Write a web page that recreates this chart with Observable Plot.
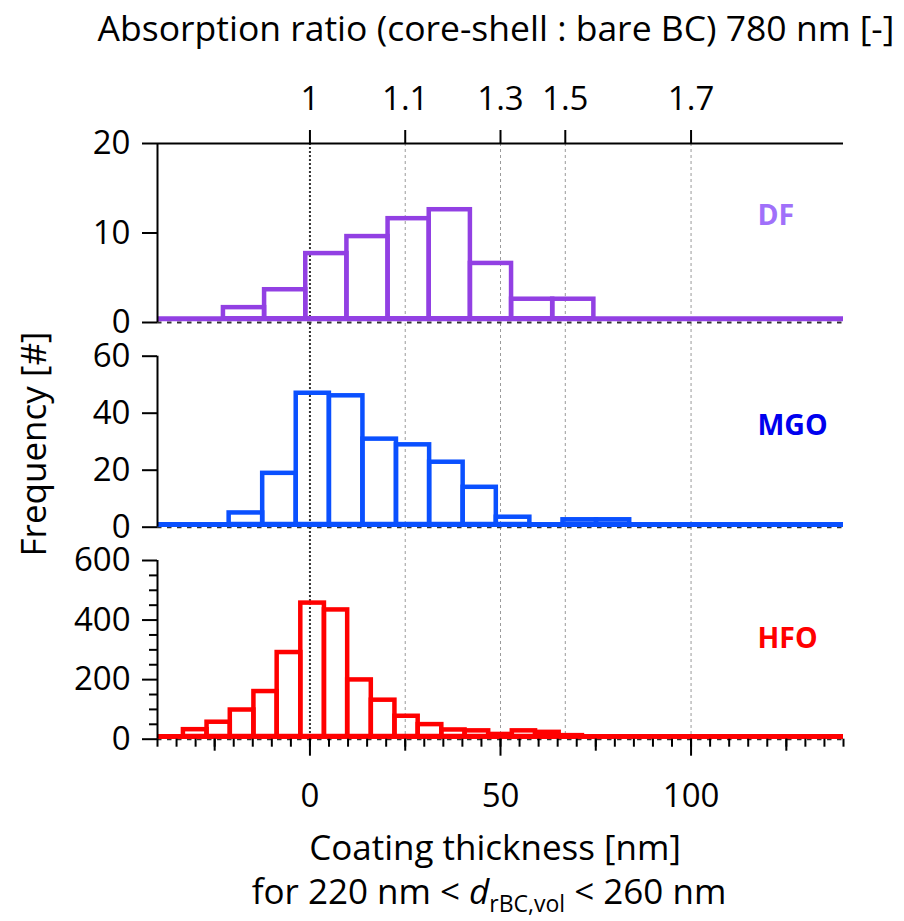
<!DOCTYPE html>
<html><head><meta charset="utf-8">
<script src="https://cdn.jsdelivr.net/npm/d3@7"></script>
<script src="https://cdn.jsdelivr.net/npm/@observablehq/plot@0.6"></script>
<style>
body{margin:0;background:#fff;font-family:"Open Sans",sans-serif;}
#wrap{position:relative;width:904px;height:921px;overflow:hidden;background:#fff;}
#wrap svg{position:absolute;left:0;}
.t{position:absolute;white-space:nowrap;color:#000;font-size:35px;line-height:1;font-family:"Open Sans",sans-serif;}
</style></head><body><div id="wrap"></div>
<script>
// ---------- data ----------
const xDomain = [-40, 140];
const ratioLabels = ["1", "1.1", "1.3", "1.5", "1.7"];
const ratioThickness = [0, 25, 50, 67, 100];
const gridThickness = [25, 50, 67, 100];
const bottomTicks = [0, 50, 100];
const bottomMidTicks = [-25, 25, 75, 125];

const dfEdges = [-22.7, -11.9, -1.1, 9.7, 20.5, 31.3, 42.1, 52.9, 63.7, 74.5];
const dfCounts = [1.66, 3.66, 7.7, 9.6, 11.6, 12.6, 6.6, 2.6, 2.6];

const mgoEdges = [-21.2, -12.4, -3.6, 5.1, 13.9, 22.7, 31.4, 40.2, 48.9, 57.7, 66.4, 75.2, 83.9];
const mgoCounts = [5.0, 18.9, 47.0, 46.1, 30.9, 28.9, 22.8, 14.0, 3.5, 0, 2.6, 2.6];

const hfoEdges = [-33.2, -27.0, -20.9, -14.7, -8.6, -2.4, 3.8, 9.9, 16.1, 22.3, 28.4, 34.6, 40.7, 46.9, 53.1, 59.2, 65.4, 71.5];
const hfoCounts = [32, 57, 98, 160, 291, 457, 434, 199, 131, 77, 49, 31, 28, 16, 28, 23, 12];

const bins = (edges, counts) => counts.map((c, i) => ({x1: edges[i], x2: edges[i + 1], count: c}));

const wrap = document.getElementById("wrap");
const baseStyle = {background: "transparent", fontFamily: "Open Sans", fontSize: "33px", overflow: "visible", color: "#000"};
const W = 904, ML = 157, MR = 61;

function place(svg, top) { svg.style.top = top + "px"; svg.style.position = "absolute"; wrap.appendChild(svg); }

// ---------- background grid ----------
place(Plot.plot({
  width: W, height: 921, marginLeft: ML, marginRight: MR, marginTop: 143, marginBottom: 182,
  x: {domain: xDomain, axis: null}, y: {domain: [0, 1], axis: null},
  style: baseStyle,
  marks: [
    Plot.ruleX(gridThickness, {stroke: "#9a9a9a", strokeWidth: 1, strokeDasharray: "3,3"}),
    Plot.ruleX([0], {stroke: "#333", strokeWidth: 2, strokeDasharray: "2,2"})
  ]
}), 0);

function panel(o) {
  const marks = [
    Plot.ruleY([0], {stroke: "#333", strokeWidth: 2, strokeDasharray: "4.5,5.5"}),
    Plot.ruleY([0], {stroke: o.color, strokeWidth: 5, dy: o.baseDy}),
    Plot.rect(bins(o.edges, o.counts), {x1: "x1", x2: "x2", y1: () => 0, y2: "count",
      fill: "none", stroke: o.color, strokeWidth: 4.5, insetBottom: -o.baseDy}),
    Plot.ruleX([xDomain[0]], {stroke: "#000", strokeWidth: 2}),
    Plot.axisY({ticks: o.yTicks, tickSize: 15, tickPadding: 12, strokeWidth: 2, label: null, fontSize: 33}),
    Plot.text([o.label], {frameAnchor: "top-right", dx: -86, dy: o.labelDy, textAnchor: "start",
      lineAnchor: "middle", fill: o.labelColor, fontSize: 28.5, fontWeight: "bold"})
  ];
  if (o.yMinor) marks.push(Plot.axisY({ticks: o.yMinor, tickSize: 8, tickFormat: () => "", strokeWidth: 2, label: null}));
  if (o.top) {
    marks.push(Plot.ruleY([o.yDomain[1]], {stroke: "#000", strokeWidth: 2}));
    marks.push(Plot.axisX({anchor: "top", ticks: ratioThickness,
      tickFormat: d => ratioLabels[ratioThickness.indexOf(d)], tickSize: 14, tickPadding: 20,
      strokeWidth: 2, label: null, fontSize: 33}));
  }
  if (o.bottom) {
    marks.push(Plot.axisX({ticks: d3.range(-40, 141, 5), tickSize: 8, tickFormat: () => "", strokeWidth: 2, label: null}));
    marks.push(Plot.axisX({ticks: bottomMidTicks, tickSize: 12, tickFormat: () => "", strokeWidth: 2, label: null}));
    marks.push(Plot.axisX({ticks: bottomTicks, tickSize: 17, tickPadding: 27, strokeWidth: 2, label: null, fontSize: 33}));
  }
  const hasX = o.top || o.bottom;
  const svg = Plot.plot({
    width: W, height: o.height, marginLeft: ML, marginRight: MR,
    marginTop: o.marginTop, marginBottom: o.marginBottom,
    x: hasX ? {domain: xDomain} : {domain: xDomain, axis: null},
    y: {domain: o.yDomain},
    style: baseStyle,
    marks
  });
  place(svg, o.svgTop);
}

panel({svgTop: 0, height: 340, marginTop: 143, marginBottom: 18, yDomain: [0, 20], yTicks: [0, 10, 20],
  edges: dfEdges, counts: dfCounts, color: "#9240e3", label: "DF", labelColor: "#a070fa", labelDy: 72,
  baseDy: -3.7, top: true});
panel({svgTop: 340, height: 200, marginTop: 15.7, marginBottom: 13.3, yDomain: [0, 60], yTicks: [0, 20, 40, 60],
  edges: mgoEdges, counts: mgoCounts, color: "#0a50ff", label: "MGO", labelColor: "#0000ee", labelDy: 70,
  baseDy: -2.7});
panel({svgTop: 540, height: 381, marginTop: 20, marginBottom: 182.3, yDomain: [0, 600], yTicks: [0, 200, 400, 600],
  yMinor: [50, 100, 150, 250, 300, 350, 450, 500, 550],
  edges: hfoEdges, counts: hfoCounts, color: "#ff0000", label: "HFO", labelColor: "#ff0000", labelDy: 78,
  baseDy: -2.7, bottom: true});

// ---------- titles ----------
function txt(html, left, top, size, extra) {
  const d = document.createElement("div");
  d.className = "t"; d.innerHTML = html;
  d.style.left = left + "px"; d.style.top = top + "px";
  d.style.fontSize = size + "px";
  d.style.transform = extra || "translateX(-50%)";
  wrap.appendChild(d);
}
txt("Absorption ratio (core-shell : bare BC) 780 nm [-]", 496, 10, 35.5);
txt("Coating thickness [nm]", 495, 829, 35);
txt('for 220 nm &lt; <i>d</i><sub style="font-size:23px;vertical-align:-8px">rBC,vol</sub> &lt; 260 nm', 489, 873, 35);
txt("Frequency [#]", 32, 444, 35, "translate(-50%,-50%) rotate(-90deg)");
</script></body></html>
